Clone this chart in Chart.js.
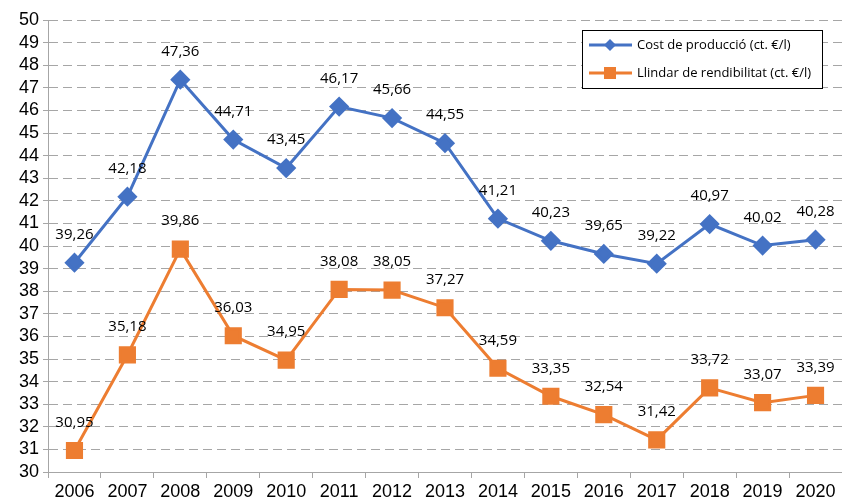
<!DOCTYPE html>
<html>
<head>
<meta charset="utf-8">
<script src="https://cdn.jsdelivr.net/npm/chart.js@4"></script>
<style>
  html, body { margin: 0; padding: 0; background: #fff; }
  #wrap { width: 842px; height: 504px; }
</style>
</head>
<body>
<div id="wrap"><canvas id="costChart" width="842" height="504"></canvas></div>
<script>
const $ = id => document.getElementById(id);

// Data
const years = ["2006", "2007", "2008", "2009", "2010", "2011", "2012", "2013", "2014", "2015", "2016", "2017", "2018", "2019", "2020"];
const costProduccio = [39.26, 42.18, 47.36, 44.71, 43.45, 46.17, 45.66, 44.55, 41.21, 40.23, 39.65, 39.22, 40.97, 40.02, 40.28];
const llindarRendibilitat = [30.95, 35.18, 39.86, 36.03, 34.95, 38.08, 38.05, 37.27, 34.59, 33.35, 32.54, 31.42, 33.72, 33.07, 33.39];
const seriesNames = ["Cost de producció (ct. €/l)", "Llindar de rendibilitat (ct. €/l)"];

const BLUE = "#4472C4";
const ORANGE = "#ED7D31";
const GRID = "#A6A6A6";

// Value labels above each point, with decimal comma
const valueLabels = {
  id: "valueLabels",
  afterDatasetsDraw(chart) {
    const ctx = chart.ctx;
    ctx.save();
    ctx.font = "15px 'Open Sans'";
    ctx.fillStyle = "#000";
    ctx.textAlign = "center";
    ctx.textBaseline = "middle";
    chart.data.datasets.forEach((ds, i) => {
      chart.getDatasetMeta(i).data.forEach((pt, j) => {
        ctx.fillText(ds.data[j].toFixed(2).replace(".", ","), pt.x, pt.y - 28);
      });
    });
    ctx.restore();
  }
};

// Excel-like legend box with line + marker samples
const boxLegend = {
  id: "boxLegend",
  afterDraw(chart) {
    const ctx = chart.ctx;
    const x = 582, y = 30, w = 240, h = 58;
    ctx.save();
    ctx.fillStyle = "#fff";
    ctx.fillRect(x, y, w, h);
    ctx.strokeStyle = "#000";
    ctx.lineWidth = 1;
    ctx.strokeRect(x + 0.5, y + 0.5, w, h);
    chart.data.datasets.forEach((ds, i) => {
      const cy = y + 15 + i * 28;
      ctx.strokeStyle = ds.borderColor;
      ctx.lineWidth = 3;
      ctx.beginPath();
      ctx.moveTo(589, cy);
      ctx.lineTo(632, cy);
      ctx.stroke();
      ctx.fillStyle = ds.backgroundColor;
      ctx.beginPath();
      if (ds.pointStyle === "rectRot") {
        ctx.moveTo(610, cy - 6);
        ctx.lineTo(616, cy);
        ctx.lineTo(610, cy + 6);
        ctx.lineTo(604, cy);
      } else {
        ctx.rect(604, cy - 6, 12, 12);
      }
      ctx.closePath();
      ctx.fill();
      ctx.fillStyle = "#000";
      ctx.font = "13px 'Open Sans'";
      ctx.textBaseline = "middle";
      ctx.fillText(ds.label, 637, cy);
    });
    ctx.restore();
  }
};

new Chart($("costChart"), {
  type: "line",
  data: {
    labels: years,
    datasets: [{
      label: seriesNames[0],
      data: costProduccio,
      borderColor: BLUE,
      backgroundColor: BLUE,
      borderWidth: 3,
      pointStyle: "rectRot",
      pointRadius: 8,
      pointHoverRadius: 8,
      tension: 0
    }, {
      label: seriesNames[1],
      data: llindarRendibilitat,
      borderColor: ORANGE,
      backgroundColor: ORANGE,
      borderWidth: 3,
      pointStyle: "rect",
      pointRadius: 10,
      pointHoverRadius: 10,
      tension: 0
    }]
  },
  options: {
    responsive: false,
    animation: false,
    layout: { autoPadding: false, padding: { top: 20, right: -3, left: 0, bottom: 0 } },
    plugins: {
      legend: { display: false },
      tooltip: { enabled: false }
    },
    scales: {
      x: {
        offset: true,
        grid: {
          offset: true,
          drawOnChartArea: false,
          // no line at the far right edge
          color: c => (c.type === "tick" ? GRID : "transparent"),
          tickLength: 6
        },
        border: { color: GRID },
        ticks: { color: "#000", font: { family: "'Liberation Sans Narrow', 'Liberation Sans'", size: 18 }, padding: 3, maxRotation: 0 },
        afterFit: scale => { scale.height = 32; }
      },
      y: {
        min: 30,
        max: 50,
        ticks: { stepSize: 1, autoSkip: false, color: "#000", font: { family: "'Liberation Sans'", size: 18 }, padding: 4 },
        grid: { color: GRID, tickLength: 5 },
        border: { color: GRID, dash: [9, 5] },
        afterFit: scale => { scale.width = 48; }
      }
    }
  },
  plugins: [valueLabels, boxLegend]
});
</script>
</body>
</html>
